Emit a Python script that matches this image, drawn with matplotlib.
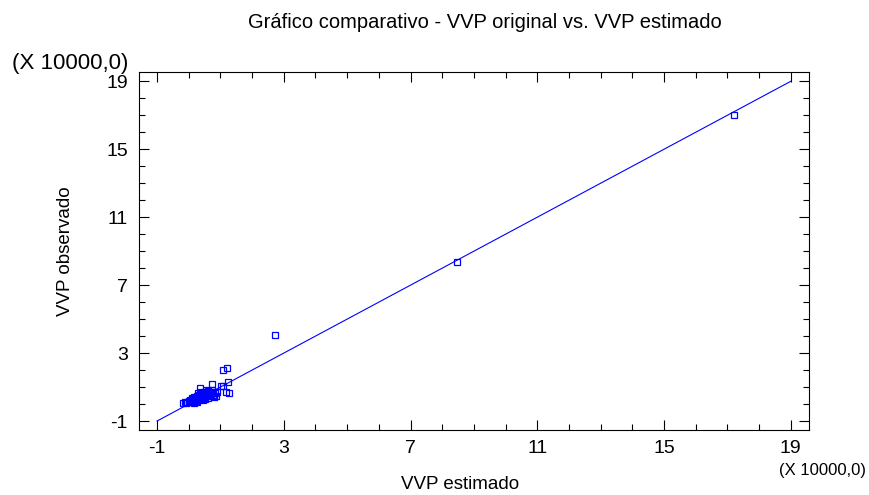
import numpy as np
import matplotlib.pyplot as plt
from matplotlib.ticker import MultipleLocator, FixedLocator

plt.rcParams['font.family'] = ['Liberation Sans', 'DejaVu Sans']

# VVP estimado vs VVP observado (unidades de 10000)
vvp_estimado = [17.2, 8.46, 2.72, 1.22, 1.09, 1.25, 0.72, 1.03, 1.08, 1.19, 1.27,
                -0.18, -0.10, -0.05, 0.00, 0.05, 0.08, 0.10, 0.12, 0.15, 0.18,
                0.20, 0.22, 0.25, 0.27, 0.30, 0.32, 0.34, 0.36, 0.38, 0.40,
                0.42, 0.45, 0.47, 0.50, 0.52, 0.55, 0.58, 0.60, 0.62, 0.65,
                0.68, 0.70, 0.72, 0.75, 0.78, 0.80, 0.82, 0.85, 0.88, 0.35,
                0.28, 0.55, 0.15, 0.45, 0.02, 0.60, 0.25, -0.12, 0.05, 0.18,
                0.32, 0.40, 0.48, 0.58, 0.66, 0.74, 0.10, 0.22, 0.38, 0.52]
vvp_observado = [17.0, 8.37, 4.06, 2.10, 2.02, 1.31, 1.20, 1.06, 1.09, 0.69, 0.63,
                 0.08, 0.07, 0.10, 0.12, 0.15, 0.10, 0.20, 0.28, 0.18, 0.32,
                 0.25, 0.38, 0.30, 0.45, 0.35, 0.52, 0.42, 0.60, 0.30, 0.48,
                 0.65, 0.38, 0.55, 0.70, 0.45, 0.62, 0.52, 0.75, 0.36, 0.58,
                 0.68, 0.45, 0.80, 0.55, 0.72, 0.42, 0.62, 0.50, 0.70, 0.92,
                 0.62, 0.85, 0.05, 0.22, 0.20, 0.55, 0.12, 0.12, 0.25, 0.40,
                 0.28, 0.58, 0.35, 0.66, 0.50, 0.62, 0.35, 0.16, 0.70, 0.28]

# recta de referencia
recta_x = [-1, 19]
recta_y = [-1, 19]

ticks = [-1, 3, 7, 11, 15, 19]

fig = plt.figure(figsize=(8.7, 4.95), dpi=100)
ax = fig.add_axes([0.1598, 0.1313, 0.7701, 0.7232])

ax.plot(recta_x, recta_y, color='#0000ff', lw=0.8)
ax.plot(vvp_estimado, vvp_observado, 's', mfc='none', mec='#0000ff',
        ms=3.8, mew=0.9)

ax.set_xlim(-1.57, 19.58)
ax.set_ylim(-1.53, 19.55)
ax.xaxis.set_major_locator(FixedLocator(ticks))
ax.yaxis.set_major_locator(FixedLocator(ticks))
ax.xaxis.set_minor_locator(MultipleLocator(1))
ax.yaxis.set_minor_locator(MultipleLocator(1))
ax.set_xticklabels([str(t) for t in ticks])
ax.set_yticklabels([str(t) for t in ticks])
ax.tick_params(which='both', direction='in', top=True, right=True,
               width=0.8, color='black', labelsize=14)
ax.tick_params(which='major', length=7)
ax.tick_params(which='minor', length=4)
ax.tick_params(axis='x', pad=7)
ax.tick_params(axis='y', pad=8)
for s in ax.spines.values():
    s.set_linewidth(0.8)

ax.set_xlabel('VVP estimado', fontsize=13.5)
ax.set_ylabel('VVP observado', fontsize=13.5)
ax.xaxis.set_label_coords(0.479, -0.151)
ax.xaxis.label.set_va('center')
ax.yaxis.set_label_coords(-0.110, 0.5)
ax.yaxis.label.set_va('center')

fig.text(0.557, 0.955, 'Gráfico comparativo - VVP original vs. VVP estimado',
         ha='center', va='center', fontsize=14.5)
fig.text(0.0805, 0.872, '(X 10000,0)', ha='center', va='center', fontsize=16)
fig.text(0.945, 0.050, '(X 10000,0)', ha='center', va='center', fontsize=12)

fig.savefig('out.png', dpi=100)
